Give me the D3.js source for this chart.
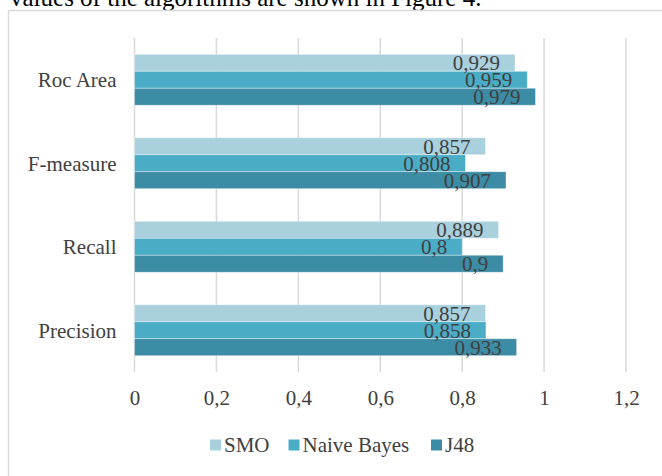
<!DOCTYPE html>
<html>
<head>
<meta charset="utf-8">
<script src="https://cdn.jsdelivr.net/npm/d3@7"></script>
<style>
    body { margin: 0; background: #fff; }
    svg { display: block; font-family: "Liberation Serif", "Times New Roman", serif; }
</style>
</head>
<body>
<svg id="chart" width="662" height="476"></svg>
<script>
// categories top to bottom, as in the picture
const categories = ["Roc Area", "F-measure", "Recall", "Precision"];
const seriesNames = ["SMO", "Naive Bayes", "J48"];
const smoValues = [0.929, 0.857, 0.889, 0.857];
const naiveBayesValues = [0.959, 0.808, 0.8, 0.858];
const j48Values = [0.979, 0.907, 0.9, 0.933];
const tickValues = [0, 0.2, 0.4, 0.6, 0.8, 1, 1.2];

const seriesColors = ["#a9d0dd", "#4bacc6", "#3c8ca5"];
const allSeries = [smoValues, naiveBayesValues, j48Values];

const svg = d3.select("#chart");
const margin = {top: 38, left: 134.5, right: 36, bottom: 104};
const plotW = 662 - margin.left - margin.right;
const plotH = 476 - margin.top - margin.bottom;
const textColor = "#404040";

const locale = d3.formatLocale({decimal: ",", thousands: ".", grouping: [3], currency: ["", ""]});
const fmt = locale.format("~g");

// text above the chart (cut off in the original screenshot)
svg.append("text")
    .attr("x", 10)
    .attr("y", 6)
    .attr("font-size", 25)
    .attr("fill", "#000")
    .text("values of the algorithms are shown in Figure 4.");

// chart frame
svg.append("rect")
    .attr("x", 8.5)
    .attr("y", 10.5)
    .attr("width", 700)
    .attr("height", 500)
    .attr("fill", "none")
    .attr("stroke", "#d9d9d9")
    .attr("stroke-width", 1.5);

const x = d3.scaleLinear().domain([0, 1.2]).range([0, plotW]);
const y = d3.scaleBand().domain(categories).range([0, plotH]).padding(0);
const groupPad = y.bandwidth() * 0.195;
const ySeries = d3.scaleBand().domain(d3.range(seriesNames.length))
    .range([groupPad, y.bandwidth() - groupPad]).padding(0);

const g = svg.append("g")
    .attr("transform", "translate(" + margin.left + "," + margin.top + ")");

// gridlines
g.append("g").selectAll("line")
    .data(tickValues)
    .join("line")
    .attr("x1", d => x(d))
    .attr("x2", d => x(d))
    .attr("y1", 0)
    .attr("y2", plotH)
    .attr("stroke", "#d9d9d9")
    .attr("stroke-width", 1.5);

// x axis labels
const xAxis = d3.axisBottom(x).tickValues(tickValues).tickFormat(fmt).tickSize(0).tickPadding(18);
const axG = g.append("g")
    .attr("transform", "translate(0," + plotH + ")")
    .call(xAxis);
axG.select(".domain").remove();
axG.selectAll("text")
    .attr("font-family", "Liberation Serif, Times New Roman, serif")
    .attr("font-size", 21)
    .attr("fill", textColor);

// category labels
g.append("g").selectAll("text")
    .data(categories)
    .join("text")
    .attr("x", -18)
    .attr("y", d => y(d) + y.bandwidth() / 2)
    .attr("dy", "0.35em")
    .attr("text-anchor", "end")
    .attr("font-size", 21)
    .attr("fill", textColor)
    .text(d => d);

// bars
allSeries.forEach((vals, si) => {
    const sg = g.append("g");
    sg.selectAll("rect")
        .data(vals)
        .join("rect")
        .attr("x", x(0))
        .attr("y", (d, i) => y(categories[i]) + ySeries(si))
        .attr("width", d => x(d) - x(0))
        .attr("height", ySeries.bandwidth())
        .attr("fill", seriesColors[si])
        .attr("stroke", "#ffffff")
        .attr("stroke-opacity", 0.5)
        .attr("stroke-width", 0.75);
});

// data labels
allSeries.forEach((vals, si) => {
    g.append("g").selectAll("text")
        .data(vals)
        .join("text")
        .attr("x", d => x(d) - 15)
        .attr("y", (d, i) => y(categories[i]) + ySeries(si) + ySeries.bandwidth() / 2)
        .attr("dy", "0.35em")
        .attr("text-anchor", "end")
        .attr("font-size", 21)
        .attr("fill", textColor)
        .text(d => fmt(d));
});

// legend
const legendX = [210, 288.5, 431];
const legend = svg.append("g");
seriesNames.forEach((name, i) => {
    legend.append("rect")
        .attr("x", legendX[i])
        .attr("y", 439.5)
        .attr("width", 11)
        .attr("height", 11)
        .attr("fill", seriesColors[i]);
    legend.append("text")
        .attr("x", legendX[i] + 14)
        .attr("y", 445)
        .attr("dy", "0.35em")
        .attr("font-size", 21)
        .attr("fill", textColor)
        .text(name);
});
</script>
</body>
</html>
